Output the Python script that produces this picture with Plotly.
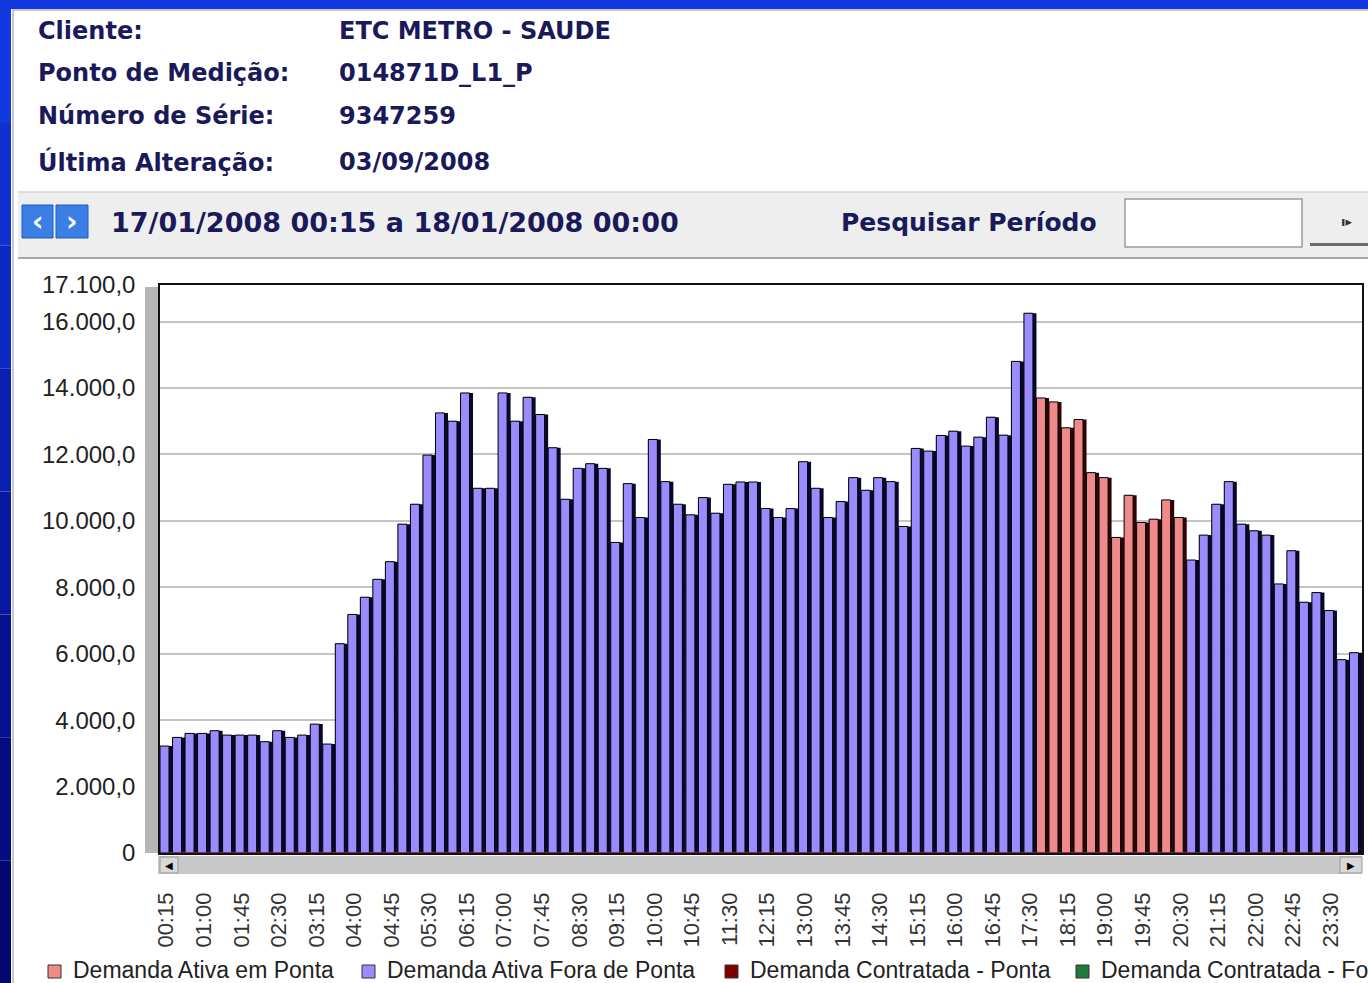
import plotly.graph_objects as go

W, H = 1368, 983

# categorias (intervalos de 15 min)
horarios = [
    "00:15", "00:30", "00:45", "01:00", "01:15", "01:30", "01:45", "02:00", "02:15", "02:30", "02:45", "03:00",
    "03:15", "03:30", "03:45", "04:00", "04:15", "04:30", "04:45", "05:00", "05:15", "05:30", "05:45", "06:00",
    "06:15", "06:30", "06:45", "07:00", "07:15", "07:30", "07:45", "08:00", "08:15", "08:30", "08:45", "09:00",
    "09:15", "09:30", "09:45", "10:00", "10:15", "10:30", "10:45", "11:00", "11:15", "11:30", "11:45", "12:00",
    "12:15", "12:30", "12:45", "13:00", "13:15", "13:30", "13:45", "14:00", "14:15", "14:30", "14:45", "15:00",
    "15:15", "15:30", "15:45", "16:00", "16:15", "16:30", "16:45", "17:00", "17:15", "17:30", "17:45", "18:00",
    "18:15", "18:30", "18:45", "19:00", "19:15", "19:30", "19:45", "20:00", "20:15", "20:30", "20:45", "21:00",
    "21:15", "21:30", "21:45", "22:00", "22:15", "22:30", "22:45", "23:00", "23:15", "23:30", "23:45", "00:00",
]
rotulos_x = horarios[::3]

N = None
demanda_fora_ponta = [
    3220, 3480, 3600, 3600, 3680, 3550, 3550, 3550, 3350, 3680, 3480, 3550,
    3880, 3280, 6300, 7180, 7700, 8240, 8770, 9900, 10500, 11980, 13250, 13000,
    13850, 10980, 10980, 13850, 13000, 13720, 13200, 12200, 10650, 11580, 11720, 11580,
    9350, 11120, 10100, 12450, 11180, 10500, 10180, 10700, 10230, 11100, 11170, 11170,
    10370, 10100, 10370, 11780, 10980, 10100, 10580, 11300, 10920, 11300, 11180, 9830,
    12180, 12100, 12570, 12700, 12250, 12520, 13120, 12580, 14800, 16250, N, N,
    N, N, N, N, N, N, N, N, N, N, 8820, 9570,
    10500, 11180, 9900, 9700, 9570, 8100, 9100, 7550, 7840, 7300, 5820, 6030,
]
demanda_em_ponta = [
    N, N, N, N, N, N, N, N, N, N, N, N,
    N, N, N, N, N, N, N, N, N, N, N, N,
    N, N, N, N, N, N, N, N, N, N, N, N,
    N, N, N, N, N, N, N, N, N, N, N, N,
    N, N, N, N, N, N, N, N, N, N, N, N,
    N, N, N, N, N, N, N, N, N, N, 13700, 13580,
    12800, 13050, 11450, 11300, 9500, 10770, 9950, 10050, 10630, 10100, N, N,
    N, N, N, N, N, N, N, N, N, N, N, N,
]
contratada_ponta = [0] * 96
contratada_fora = [0] * 96

y_ticks = [0, 2000, 4000, 6000, 8000, 10000, 12000, 14000, 16000, 17100]
y_rotulos = ["0", "2.000,0", "4.000,0", "6.000,0", "8.000,0", "10.000,0",
             "12.000,0", "14.000,0", "16.000,0", "17.100,0"]

cabecalho_rotulos = ["Cliente:", "Ponto de Medição:", "Número de Série:", "Última Alteração:"]
cabecalho_valores = ["ETC METRO - SAUDE", "014871D_L1_P", "9347259", "03/09/2008"]
periodo = "17/01/2008 00:15 a 18/01/2008 00:00"

legenda = ["Demanda Ativa em Ponta", "Demanda Ativa Fora de Ponta",
           "Demanda Contratada - Ponta", "Demanda Contratada - Fora de Ponta"]
cores_legenda = ["#f08a8a", "#9a8cff", "#800000", "#1f7a3c"]


def px(x):
    return x / W


def py(y):
    return 1 - y / H


def rect(x0, y0, x1, y1, fill, line=None, lw=0, layer="below"):
    return dict(type="rect", xref="paper", yref="paper",
                x0=px(x0), x1=px(x1), y0=py(y1), y1=py(y0),
                fillcolor=fill, line=dict(color=line or fill, width=lw), layer=layer)


def texto(x, y, s, size, color="#1a1a5a", bold=False, family="DejaVu Sans", anchor="left"):
    return dict(xref="paper", yref="paper", x=px(x), y=py(y), text=s, showarrow=False,
                xanchor=anchor, yanchor="middle", borderpad=0,
                font=dict(family=family, size=size, color=color, weight="bold" if bold else "normal"))


fig = go.Figure()

# sombra "3D" das barras
fig.add_trace(go.Bar(x=horarios, y=demanda_fora_ponta, width=1.0, offset=-0.5,
                     marker=dict(color="#08082e", line=dict(width=0)), showlegend=False, hoverinfo="skip"))
fig.add_trace(go.Bar(x=horarios, y=demanda_em_ponta, width=1.0, offset=-0.5,
                     marker=dict(color="#300404", line=dict(width=0)), showlegend=False, hoverinfo="skip"))
fig.add_trace(go.Bar(x=horarios, y=demanda_fora_ponta, width=0.72, offset=-0.5, name=legenda[1],
                     marker=dict(color="#9a8cff", line=dict(color="#000000", width=1)), showlegend=False))
fig.add_trace(go.Bar(x=horarios, y=demanda_em_ponta, width=0.72, offset=-0.5, name=legenda[0],
                     marker=dict(color="#f08a8a", line=dict(color="#000000", width=1)), showlegend=False))
fig.add_trace(go.Scatter(x=horarios, y=contratada_fora, mode="lines", name=legenda[3],
                         line=dict(color="#1f7a3c", width=1), showlegend=False))
fig.add_trace(go.Scatter(x=horarios, y=contratada_ponta, mode="lines", name=legenda[2],
                         line=dict(color="#c8103a", width=1.2), showlegend=False))

shapes = []
# moldura azul da pagina
shapes.append(rect(0, 0, W, 9, "#1238e0"))
faixas = ["#1238e0", "#1030d0", "#0d28c0", "#0a20b0", "#0818a0", "#061290", "#040c80", "#020870"]
for i, c in enumerate(faixas):
    shapes.append(rect(0, i * H / len(faixas), 11, (i + 1) * H / len(faixas), c))
shapes.append(rect(12, 9, 14, H, "#c8c8c8"))
shapes.append(rect(12, 9, W, 11, "#c8c8c8"))
# barra de navegacao
shapes.append(rect(18, 192, W, 258, "#eeeeee"))
shapes.append(rect(18, 191, W, 193, "#dddddd"))
shapes.append(rect(18, 257, W, 259, "#a8a8a8"))
shapes.append(rect(22, 205, 53, 238, "#3b7fe6", "#1f5cc0", 1))
shapes.append(rect(56, 205, 88, 238, "#3b7fe6", "#1f5cc0", 1))
shapes.append(rect(1125, 199, 1302, 247, "#ffffff", "#9a9a9a", 1.5))
shapes.append(rect(1310, 243, W, 246, "#6a6a6a"))
# parede cinza e barra de rolagem
shapes.append(rect(145, 287, 158, 853, "#b6b6b6"))
shapes.append(rect(158, 856, 1362, 874, "#c8c8c8"))
shapes.append(rect(160, 857, 178, 873, "#d8d8d8", "#999999", 1))
shapes.append(rect(1340, 857, 1362, 873, "#d8d8d8", "#999999", 1))
# legenda
leg_x = [48, 362, 725, 1076]
for x0, c in zip(leg_x, cores_legenda):
    shapes.append(rect(x0, 965, x0 + 13, 978, c, "#333333", 1))

ann = []
linhas_y = [31, 73, 116, 162]
for rot, val, yy in zip(cabecalho_rotulos, cabecalho_valores, linhas_y):
    ann.append(texto(37, yy, rot, 24, bold=True))
    ann.append(texto(338, yy, val, 24, bold=True))
ann.append(texto(110, 223, periodo, 27, bold=True))
ann.append(texto(840, 223, "Pesquisar Período", 25, bold=True))
ann.append(texto(37.5, 221, "‹", 28, color="#ffffff", bold=True, anchor="center"))
ann.append(texto(72, 221, "›", 28, color="#ffffff", bold=True, anchor="center"))
ann.append(texto(1346, 221, "ı▸", 13, color="#333333", bold=True, anchor="center"))
ann.append(texto(169, 865, "◀", 10, color="#000000", anchor="center"))
ann.append(texto(1351, 865, "▶", 10, color="#000000", anchor="center"))
for x0, s in zip(leg_x, legenda):
    ann.append(texto(x0 + 24, 970, s, 23, color="#222222", family="Liberation Sans"))

fig.update_layout(
    width=W, height=H,
    margin=dict(l=0, r=0, t=0, b=0, pad=0),
    paper_bgcolor="#ffffff",
    plot_bgcolor="#ffffff",
    barmode="overlay",
    showlegend=False,
    shapes=shapes,
    annotations=ann,
    xaxis=dict(domain=[px(160), px(1362)], type="category", range=[-0.5, 95.5], automargin=False,
               tickmode="array", tickvals=rotulos_x, ticktext=rotulos_x, tickangle=-90,
               ticks="", ticklabelstandoff=29, showgrid=False,
               showline=True, mirror=True, linecolor="#111111", linewidth=1.5,
               tickfont=dict(family="Liberation Sans", size=22, color="#333333")),
    yaxis=dict(domain=[py(853), py(285)], range=[0, 17100], automargin=False,
               tickmode="array", tickvals=y_ticks, ticktext=y_rotulos,
               ticks="", ticklabelstandoff=18, showgrid=True, gridcolor="#c4c4c4", gridwidth=1.5,
               showline=True, mirror=True, linecolor="#111111", linewidth=1.5, zeroline=False,
               tickfont=dict(family="Liberation Sans", size=24, color="#222222")),
)

fig.write_html("out.html", config={"displayModeBar": False},
               post_script="document.body.style.margin='0px';")
